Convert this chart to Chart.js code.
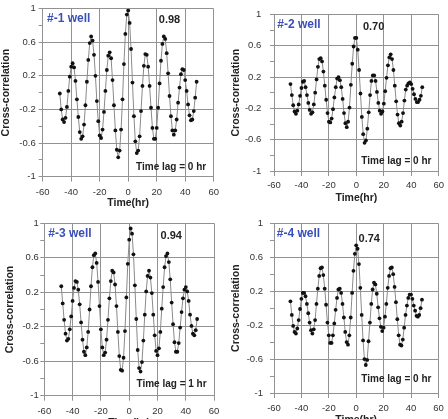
<!DOCTYPE html>
<html>
<head>
<meta charset="utf-8">
<script src="https://cdn.jsdelivr.net/npm/chart.js@4/dist/chart.umd.min.js"></script>
<style>
    html, body { margin: 0; padding: 0; background: #fff; overflow: hidden; }
    body { width: 448px; height: 419px; position: relative; }
    .panel { position: absolute; }
</style>
</head>
<body>
<div class="panel" style="left:0px;top:0px;"><canvas id="well_1_cnv" width="224" height="209"></canvas></div>
<div class="panel" style="left:224px;top:0px;"><canvas id="well_2_cnv" width="224" height="209"></canvas></div>
<div class="panel" style="left:0px;top:209px;"><canvas id="well_3_cnv" width="224" height="225"></canvas></div>
<div class="panel" style="left:224px;top:209px;"><canvas id="well_4_cnv" width="224" height="225"></canvas></div>
<script>
// time lag of each point (hr)
const hours = [-48,-47,-46,-45,-44,-43,-42,-41,-40,-39,-38,-37,-36,-35,-34,-33,-32,-31,-30,-29,-28,-27,-26,-25,-24,-23,-22,-21,-20,-19,-18,-17,-16,-15,-14,-13,-12,-11,-10,-9,-8,-7,-6,-5,-4,-3,-2,-1,0,1,2,3,4,5,6,7,8,9,10,11,12,13,14,15,16,17,18,19,20,21,22,23,24,25,26,27,28,29,30,31,32,33,34,35,36,37,38,39,40,41,42,43,44,45,46,47,48];

// cross-correlation
const well_1_corr = [-0.01,-0.20,-0.32,-0.35,-0.30,-0.17,0.02,0.19,0.31,0.35,0.30,0.14,-0.08,-0.29,-0.47,-0.55,-0.52,-0.38,-0.15,0.13,0.39,0.59,0.67,0.62,0.45,0.20,-0.10,-0.34,-0.51,-0.54,-0.44,-0.23,0.02,0.27,0.44,0.48,0.41,0.15,-0.15,-0.45,-0.68,-0.77,-0.69,-0.44,-0.08,0.34,0.70,0.93,0.98,0.83,0.52,0.12,-0.28,-0.58,-0.72,-0.69,-0.52,-0.22,0.08,0.32,0.46,0.45,0.31,0.08,-0.18,-0.42,-0.55,-0.55,-0.42,-0.18,0.11,0.38,0.58,0.67,0.64,0.47,0.23,-0.04,-0.28,-0.45,-0.50,-0.45,-0.32,-0.12,0.06,0.22,0.28,0.27,0.15,0.02,-0.14,-0.27,-0.33,-0.32,-0.22,-0.06,0.13];
const well_2_corr = [0.11,-0.03,-0.16,-0.24,-0.27,-0.23,-0.15,-0.04,0.06,0.14,0.15,0.07,-0.03,-0.13,-0.22,-0.27,-0.25,-0.15,0.00,0.17,0.33,0.43,0.44,0.40,0.27,0.09,-0.09,-0.26,-0.37,-0.38,-0.33,-0.21,-0.06,0.07,0.18,0.20,0.16,0.07,-0.08,-0.26,-0.39,-0.44,-0.37,-0.19,0.10,0.37,0.59,0.70,0.70,0.55,0.29,-0.01,-0.31,-0.53,-0.64,-0.61,-0.46,-0.25,-0.03,0.15,0.22,0.22,0.15,0.01,-0.13,-0.23,-0.27,-0.24,-0.14,0.02,0.19,0.35,0.45,0.49,0.43,0.29,0.09,-0.11,-0.28,-0.39,-0.42,-0.37,-0.26,-0.10,0.04,0.09,0.12,0.13,0.11,0.05,-0.02,-0.08,-0.12,-0.12,-0.09,-0.04,0.07];
const well_3_corr = [0.27,0.07,-0.12,-0.28,-0.36,-0.34,-0.23,-0.08,0.10,0.25,0.33,0.32,0.23,0.06,-0.15,-0.35,-0.49,-0.53,-0.44,-0.26,0.00,0.27,0.49,0.63,0.65,0.54,0.32,0.04,-0.23,-0.44,-0.53,-0.50,-0.35,-0.12,0.13,0.33,0.45,0.43,0.29,0.04,-0.26,-0.54,-0.70,-0.71,-0.56,-0.25,0.14,0.53,0.81,0.94,0.88,0.64,0.28,-0.11,-0.47,-0.68,-0.72,-0.61,-0.36,-0.06,0.21,0.39,0.45,0.37,0.19,-0.06,-0.30,-0.48,-0.53,-0.45,-0.26,0.01,0.26,0.49,0.62,0.65,0.55,0.35,0.08,-0.17,-0.38,-0.49,-0.49,-0.39,-0.21,-0.03,0.13,0.23,0.26,0.21,0.10,-0.06,-0.19,-0.28,-0.30,-0.24,-0.11];
const well_4_corr = [0.08,-0.08,-0.21,-0.28,-0.30,-0.24,-0.14,-0.01,0.11,0.18,0.18,0.14,0.05,-0.06,-0.17,-0.26,-0.30,-0.25,-0.14,0.05,0.23,0.38,0.47,0.48,0.39,0.23,0.04,-0.17,-0.32,-0.41,-0.41,-0.32,-0.18,-0.02,0.12,0.22,0.23,0.18,0.05,-0.11,-0.28,-0.40,-0.43,-0.32,-0.11,0.18,0.44,0.64,0.74,0.70,0.52,0.24,-0.08,-0.38,-0.60,-0.67,-0.61,-0.39,-0.17,0.05,0.22,0.30,0.28,0.17,0.01,-0.12,-0.22,-0.27,-0.23,-0.10,0.05,0.24,0.38,0.47,0.48,0.40,0.25,0.07,-0.13,-0.32,-0.43,-0.44,-0.37,-0.23,-0.08,0.03,0.12,0.16,0.16,0.11,0.03,-0.03,-0.09,-0.10,-0.08,0.00,0.10];

const well_names = ["#-1 well", "#-2 well", "#-3 well", "#-4 well"];
const peak_texts = ["0.98", "0.70", "0.94", "0.74"];
const lag_texts = ["Time lag = 0 hr", "Time lag = 0 hr", "Time lag = 1 hr", "Time lag = 0 hr"];
const x_ticks = [-60, -40, -20, 0, 20, 40, 60];
const y_labelled = [-1, -0.6, -0.2, 0.2, 0.6, 1];

const FONT = "'Liberation Sans', Arial, sans-serif";
const GRID = "#929292";

// layout of each panel (px inside its canvas) and where its notes sit (data units)
const panels = [
    {id: "well_1_cnv", corr: well_1_corr, pad: {left: 0, top: 3.3, right: 8, bottom: 0}, y_w: 42.7, x_h: 32.4, y_tp: 3, x_tp: 5,
        name_at: [-57, 0.885], peak_at: [29, 0.865], lag_at: [54.7, -0.885]},
    {id: "well_2_cnv", corr: well_2_corr, pad: {left: 5.4, top: 1.7, right: 5, bottom: 4.4}, y_w: 44.6, x_h: 33.6, y_tp: 8.7, x_tp: 4,
        name_at: [-57.6, 0.87], peak_at: [12.6, 0.84], lag_at: [54.7, -0.87]},
    {id: "well_3_cnv", corr: well_3_corr, pad: {left: 3.7, top: 14.3, right: 9, bottom: 4.4}, y_w: 40.6, x_h: 33.9, y_tp: 1.5, x_tp: 4.6,
        name_at: [-57.2, 0.876], peak_at: [29.7, 0.85], lag_at: [54.7, -0.865]},
    {id: "well_4_cnv", corr: well_4_corr, pad: {left: 5.4, top: 14.3, right: 5, bottom: 7.7}, y_w: 44.6, x_h: 33.3, y_tp: 7, x_tp: 4.3,
        name_at: [-58, 0.88], peak_at: [9.5, 0.82], lag_at: [54.9, -0.835]}
];

function is_labelled(v) {
    let r = Math.round(v * 10) / 10;
    return y_labelled.some(function (l) { return Math.abs(l - r) < 1e-6; });
}

const notes_plugin = {
    id: "notes",
    afterDraw: function (chart) {
        const p = chart.options.plugins.notes;
        const ctx = chart.ctx;
        const xs = chart.scales.x, ys = chart.scales.y;
        ctx.save();
        ctx.textBaseline = "middle";

        ctx.font = "bold 12px " + FONT;
        ctx.fillStyle = "#3a4fb8";
        ctx.textAlign = "left";
        ctx.fillText(p.name, xs.getPixelForValue(p.name_at[0]), ys.getPixelForValue(p.name_at[1]));

        ctx.font = "bold 11px " + FONT;
        ctx.fillStyle = "#222";
        ctx.textAlign = "center";
        ctx.fillText(p.peak, xs.getPixelForValue(p.peak_at[0]), ys.getPixelForValue(p.peak_at[1]));

        ctx.font = "bold 10px " + FONT;
        ctx.textAlign = "right";
        ctx.fillText(p.lag, xs.getPixelForValue(p.lag_at[0]), ys.getPixelForValue(p.lag_at[1]));
        ctx.restore();
    }
};

panels.forEach(function (panel, i) {
    const points = hours.map(function (h, k) { return {x: h, y: panel.corr[k]}; });
    new Chart(document.getElementById(panel.id).getContext("2d"), {
        "type": "scatter",
        "data": {
            "datasets": [{
                "data": points,
                "showLine": true,
                "borderColor": "#8a8a8a",
                "borderWidth": 1,
                "pointRadius": 1.9,
                "pointBorderWidth": 0,
                "pointBackgroundColor": "#111",
                "tension": 0
            }]
        },
        "options": {
            "responsive": false,
            "animation": false,
            "devicePixelRatio": 1,
            "layout": {"padding": panel.pad, "autoPadding": false},
            "plugins": {
                "legend": {"display": false},
                "tooltip": {"enabled": false},
                "notes": {
                    "name": well_names[i], "peak": peak_texts[i], "lag": lag_texts[i],
                    "name_at": panel.name_at, "peak_at": panel.peak_at, "lag_at": panel.lag_at
                }
            },
            "scales": {
                "x": {
                    "type": "linear",
                    "min": -60,
                    "max": 60,
                    "afterBuildTicks": function (scale) {
                        scale.ticks = x_ticks.map(function (v) { return {value: v}; });
                    },
                    "afterFit": function (scale) { scale.height = panel.x_h; },
                    "ticks": {
                        "autoSkip": false, "maxRotation": 0, "padding": panel.x_tp,
                        "color": "#333", "font": {"family": FONT, "size": 9.5}
                    },
                    "grid": {"color": GRID, "tickLength": 5, "tickColor": GRID},
                    "border": {"color": GRID},
                    "title": {
                        "display": true, "text": "Time(hr)", "color": "#222",
                        "padding": {"top": 0, "bottom": 0},
                        "font": {"family": FONT, "size": 10.5, "weight": "bold"}
                    }
                },
                "y": {
                    "min": -1,
                    "max": 1,
                    "afterFit": function (scale) { scale.width = panel.y_w; },
                    "ticks": {
                        "stepSize": 0.2, "autoSkip": false, "padding": panel.y_tp,
                        "color": "#333", "font": {"family": FONT, "size": 9.5},
                        "callback": function (value) {
                            if (!is_labelled(value)) { return ""; }
                            return String(Math.round(value * 10) / 10);
                        }
                    },
                    "grid": {
                        "tickLength": 4,
                        "tickColor": GRID,
                        "color": function (c) { return is_labelled(c.tick.value) ? GRID : "rgba(0,0,0,0)"; }
                    },
                    "border": {"color": GRID},
                    "title": {
                        "display": true, "text": "Cross-correlation", "color": "#222",
                        "padding": {"top": 0, "bottom": 0},
                        "font": {"family": FONT, "size": 10.5, "weight": "bold"}
                    }
                }
            }
        },
        "plugins": [notes_plugin]
    });
});
</script>
</body>
</html>
